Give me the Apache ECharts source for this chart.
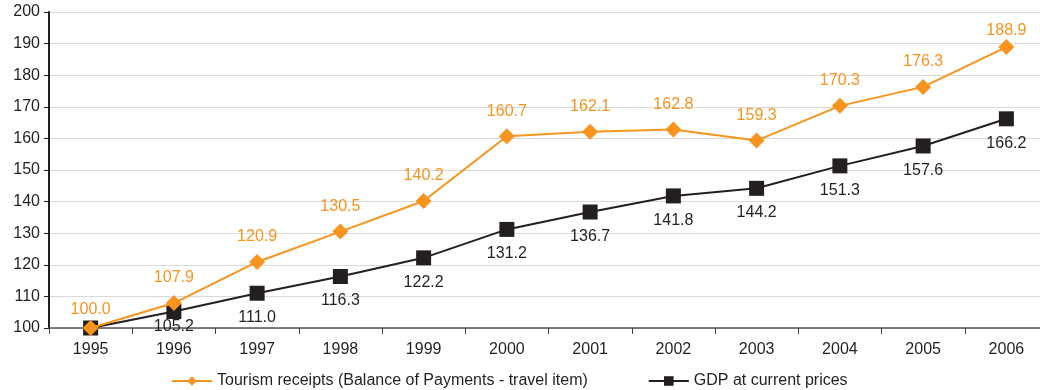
<!DOCTYPE html>
<html>
<head>
<meta charset="utf-8">
<script src="https://cdn.jsdelivr.net/npm/echarts@6/dist/echarts.min.js"></script>
<style>
  html, body { margin: 0; padding: 0; background: #fff; overflow: hidden; }
  /* plot area runs slightly past the right edge of the window */
  #chart { width: 1048px; height: 390px; }
</style>
</head>
<body>
<div id="chart"></div>
<script>
// Index values, 1995 = 100
const years = ['1995','1996','1997','1998','1999','2000','2001','2002','2003','2004','2005','2006'];
const tourismReceipts = [100.0, 107.9, 120.9, 130.5, 140.2, 160.7, 162.1, 162.8, 159.3, 170.3, 176.3, 188.9];
const gdpCurrentPrices = [100.0, 105.2, 111.0, 116.3, 122.2, 131.2, 136.7, 141.8, 144.2, 151.3, 157.6, 166.2];
const tourismName = 'Tourism receipts (Balance of Payments - travel item)';
const gdpName = 'GDP at current prices';

const ORANGE = '#F7941D';
const DARK = '#231F20';
const FONT = 'Liberation Sans, Arial, sans-serif';

// Per-point label tweaks where labels would collide with the axes
const tourismData = tourismReceipts.map((v, i) => {
  if (i === 0) return { value: v, label: { distance: 2 } };
  if (i === tourismReceipts.length - 1) return { value: v, label: { distance: 0 } };
  return v;
});
const gdpData = gdpCurrentPrices.map((v, i) => {
  if (i === 0) return { value: v, label: { show: false } };
  if (i === 1) return { value: v, label: { distance: 0 } };
  return v;
});

const chart = echarts.init(document.getElementById('chart'));
chart.setOption({
  animation: false,
  grid: { left: 49, right: 0, top: 12, bottom: 62, containLabel: false },
  legend: {
    top: 368,
    left: 166,
    itemGap: 60,
    itemWidth: 40,
    itemHeight: 12,
    textStyle: { fontFamily: FONT, fontSize: 16, color: DARK },
    data: [tourismName, gdpName]
  },
  xAxis: {
    type: 'category',
    data: years,
    boundaryGap: true,
    axisLine: { lineStyle: { color: '#555', width: 1.5 } },
    axisTick: { show: true, inside: false, length: 6, lineStyle: { color: '#444' } },
    axisLabel: { fontFamily: FONT, fontSize: 16, color: DARK, margin: 14 }
  },
  yAxis: {
    type: 'value',
    min: 100,
    max: 200,
    interval: 10,
    axisLine: { show: true, lineStyle: { color: DARK, width: 2 } },
    axisTick: { show: true, length: 5, lineStyle: { color: DARK } },
    axisLabel: { fontFamily: FONT, fontSize: 16, color: DARK, margin: 9 },
    splitLine: { lineStyle: { color: '#d9d9d9', width: 1 } }
  },
  series: [
    {
      name: gdpName,
      type: 'line',
      data: gdpData,
      symbol: 'rect',
      symbolSize: 15,
      z: 3,
      itemStyle: { color: DARK },
      lineStyle: { color: DARK, width: 2 },
      label: {
        show: true,
        position: 'bottom',
        distance: 9,
        formatter: p => p.value.toFixed(1),
        fontFamily: FONT,
        fontSize: 16,
        color: DARK
      }
    },
    {
      name: tourismName,
      type: 'line',
      data: tourismData,
      symbol: 'diamond',
      symbolSize: 16,
      z: 4,
      itemStyle: { color: ORANGE },
      lineStyle: { color: ORANGE, width: 2 },
      label: {
        show: true,
        position: 'top',
        distance: 9,
        formatter: p => p.value.toFixed(1),
        fontFamily: FONT,
        fontSize: 16,
        color: ORANGE
      }
    }
  ]
});
</script>
</body>
</html>
